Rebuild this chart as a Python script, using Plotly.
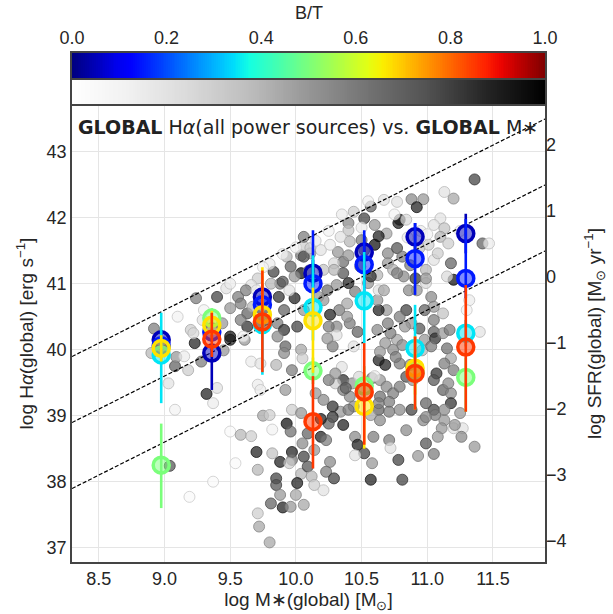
import numpy as np
import plotly.graph_objects as go

# ---------------- data ----------------
# binned medians (log M*, log Halpha) per B/T class
bin_x = [8.975, 9.36, 9.745, 10.13, 10.52, 10.907, 11.293]
bt_class = [0.05, 0.15, 0.35, 0.50, 0.67, 0.85]

navy_y = [40.15, 39.95, 40.80, 41.16, 41.48, 41.71, 41.76]
navy_up = [0.15, 0.12, 0.20, 0.20, 0.25, 0.21, 0.30]
navy_dn = [0.15, 0.56, 0.20, 0.20, 0.25, 0.20, 0.30]

blue_y = [40.06, 40.27, 40.68, 41.00, 41.29, 41.38, 41.08]
blue_up = [0.15, 0.15, 0.15, 0.81, 0.52, 0.54, 0.90]
blue_dn = [0.15, 0.15, 0.15, 0.30, 0.50, 0.55, 0.30]

cyan_y = [39.92, None, 40.38, 40.64, 40.74, 40.02, 40.25]
cyan_up = [0.64, 0.0, 0.40, 0.79, 0.74, 0.66, 0.20]
cyan_dn = [0.73, 0.0, 0.76, 0.50, 0.64, 0.40, 0.20]

green_y = [38.25, 40.48, None, 39.68, 39.45, 39.66, 39.58]
green_up = [0.63, 0.15, 0.0, 0.20, 0.30, 0.30, 0.30]
green_dn = [0.65, 0.15, 0.0, 0.20, 0.30, 0.57, 0.52]

yellow_y = [40.02, 40.37, 40.53, 40.44, 39.14, 39.72, None]
yellow_up = [0.20, 0.22, 0.72, 0.50, 0.50, 0.48, 0.0]
yellow_dn = [0.20, 0.20, 0.30, 0.79, 0.64, 0.40, 0.0]

red_y = [None, 40.16, 40.42, 38.91, 39.36, 39.64, 40.04]
red_up = [0.0, 0.40, 0.78, 0.69, 0.74, 0.56, 0.94]
red_dn = [0.0, 0.27, 0.76, 0.71, 0.80, 0.55, 0.98]

# individual galaxies: log M*, log Halpha, B/T
gal_pts = [
    (9.24,40.78,0.6),(9.40,40.80,0.8),(9.47,40.93,0.2),(9.56,40.80,0.6),(9.58,40.70,0.6),(9.50,40.63,0.5),
    (9.63,40.55,0.7),(9.67,40.65,0.4),(9.71,41.08,0.3),(9.66,40.98,0.2),(9.83,41.18,0.8),(9.88,41.0,0.6),
    (9.81,41.0,0.4),(9.93,41.41,0.4),(9.96,41.26,0.7),(10.04,41.43,0.6),(10.04,41.16,0.95),(9.91,40.60,0.7),
    (9.86,40.40,0.6),(9.91,40.30,0.85),(10.01,40.35,0.8),(10.06,40.60,0.5),(9.73,40.40,0.6),(9.63,40.35,0.85),
    (9.58,40.45,0.6),(9.50,40.20,0.95),(9.44,40.40,0.5),(9.20,40.30,0.3),(9.29,40.45,0.2),(9.50,41.0,0.15),
    (10.10,41.2,0.5),(10.06,41.56,0.3),(8.92,40.32,0.6),
    (11.36,42.58,0.8),(11.13,42.39,0.2),(11.20,42.29,0.45),(10.88,42.28,0.55),(10.97,42.28,0.5),(10.92,42.16,0.9),
    (10.77,42.24,0.2),(10.79,41.97,0.95),(10.78,41.92,0.9),(10.67,42.27,0.2),(10.57,42.17,0.7),(10.52,41.99,0.8),
    (10.44,42.09,0.3),(10.40,41.92,0.55),(10.60,41.89,0.5),(10.69,41.76,0.45),(10.84,41.97,0.25),(11.10,41.99,0.2),
    (11.05,41.89,0.2),(11.13,41.84,0.35),(11.10,41.71,0.4),(11.16,41.61,0.3),(11.42,41.61,0.7),(11.47,41.61,0.15),
    (10.63,41.72,0.9),(10.60,41.59,0.95),(10.50,41.66,0.6),(10.41,41.64,0.4),(10.32,41.48,0.5),(10.36,41.33,0.65),
    (10.29,41.31,0.25),(10.70,41.46,0.55),(10.77,41.54,0.75),(10.81,41.41,0.6),(10.70,41.31,0.5),(10.74,41.21,0.4),
    (10.87,41.28,0.6),(10.82,41.11,0.55),(10.94,41.54,0.35),(11.01,41.59,0.3),(11.05,41.36,0.2),(11.08,41.46,0.3),
    (11.18,41.31,0.7),(11.20,41.06,0.95),(11.15,41.11,0.25),(10.99,41.21,0.4),(10.99,41.01,0.25),(10.92,40.90,0.5),
    (11.03,40.80,0.55),(11.05,40.65,0.5),(11.12,40.55,0.35),(11.40,40.27,0.2),(11.32,40.75,0.15),(10.91,41.08,0.85),
    (10.84,40.60,0.8),(10.79,40.50,0.6),(10.88,40.40,0.5),(10.94,40.32,0.75),(11.05,40.27,0.7),(10.98,40.15,0.5),
    (10.69,40.60,0.5),(10.70,40.40,0.6),(10.63,40.60,0.9),(10.62,40.75,0.5),(10.63,40.90,0.2),(10.55,41.01,0.5),
    (10.45,40.88,0.6),(10.40,41.01,0.9),(10.36,41.16,0.75),(10.29,41.21,0.4),(10.21,41.21,0.35),(10.19,41.51,0.2),
    (10.11,41.46,0.45),(10.06,41.41,0.75),(10.26,41.59,0.15),(10.52,41.51,0.6),(10.40,41.43,0.5),(10.49,41.26,0.6),
    (10.62,41.13,0.4),(10.31,40.98,0.5),(10.24,40.90,0.65),(10.17,40.80,0.5),(10.33,40.60,0.6),(10.39,40.70,0.45),
    (10.31,40.35,0.55),(10.41,40.40,0.6),(10.47,40.27,0.7),(10.62,40.30,0.55),(10.06,41.71,0.6),(10.40,41.81,0.35),
    (10.34,41.71,0.2),
    (9.23,40.10,0.9),(9.28,39.82,0.6),(9.50,40.15,0.9),(9.61,40.15,0.5),(9.40,39.42,0.2),(9.37,39.19,0.15),
    (9.32,39.33,0.9),(9.08,39.75,0.7),(9.09,39.89,0.5),(9.18,39.69,0.3),(9.03,39.49,0.2),(9.08,39.09,0.1),
    (9.04,38.24,0.75),(9.37,38.0,0.05),(9.19,37.77,0.05),(9.66,39.82,0.15),(9.71,39.47,0.15),(9.73,39.39,0.15),
    (9.85,39.77,0.4),(9.92,40.05,0.7),(9.91,39.95,0.55),(10.04,40.0,0.45),(10.05,39.87,0.3),(9.92,39.39,0.5),
    (9.50,38.76,0.05),(9.58,38.71,0.4),(9.66,38.69,0.3),(9.54,38.28,0.05),(9.75,39.0,0.45),(9.80,39.01,0.3),
    (9.82,38.79,0.1),(9.93,38.88,0.95),(9.96,38.76,0.65),(9.97,39.09,0.3),(10.04,39.04,0.5),(9.70,38.45,0.9),
    (9.82,38.43,0.35),(9.88,38.30,0.9),(9.97,38.45,0.9),(9.97,38.33,0.6),(10.06,38.38,0.8),(9.95,38.28,0.3),
    (9.71,38.18,0.4),(10.04,38.12,0.4),(9.85,38.05,0.8),(9.85,37.95,0.75),(10.01,37.98,0.9),(9.88,37.80,0.5),
    (10.0,37.80,0.45),(9.81,37.67,0.7),(9.90,37.61,0.9),(9.96,37.62,0.5),(10.06,37.65,0.45),(9.71,37.52,0.3),
    (9.72,37.32,0.45),(9.80,37.08,0.45),(10.09,38.23,0.75),
    (10.28,40.05,0.6),(10.31,40.22,0.2),(10.24,40.17,0.5),(10.36,39.54,0.85),(10.30,39.49,0.3),(10.43,39.49,0.5),
    (10.48,39.59,0.25),(10.35,39.74,0.2),(10.63,39.84,0.9),(10.68,39.77,0.9),(10.58,39.57,0.6),(10.64,39.54,0.5),
    (10.69,39.44,0.55),(10.74,39.34,0.6),(10.64,39.29,0.65),(10.71,39.21,0.6),(10.63,39.09,0.7),(10.71,39.06,0.6),
    (10.57,39.01,0.45),(10.44,39.14,0.55),(10.41,39.29,0.55),(10.34,39.06,0.5),(10.28,39.14,0.85),(10.28,38.98,0.85),
    (10.25,38.88,0.7),(10.19,38.95,0.9),(10.19,38.68,0.9),(10.23,38.63,0.6),(10.09,38.73,0.7),(10.14,38.48,0.5),
    (10.26,38.30,0.55),(10.23,38.15,0.6),(10.29,38.05,0.8),(10.12,38.08,0.4),(10.14,37.95,0.3),(10.21,37.87,0.2),
    (10.45,38.68,0.55),(10.47,38.56,0.9),(10.52,38.43,0.8),(10.45,38.40,0.2),(10.59,38.68,0.6),(10.71,38.63,0.6),
    (10.72,38.51,0.2),(10.58,38.28,0.5),(10.57,38.03,0.9),(10.78,38.33,0.8),(10.81,38.03,0.8),(10.93,38.39,0.5),
    (10.99,38.58,0.75),(11.05,38.42,0.6),(10.79,39.44,0.6),(10.84,39.59,0.75),(10.89,39.54,0.5),(10.87,39.77,0.55),
    (10.96,39.99,0.4),(11.06,40.17,0.85),(11.03,40.05,0.6),(11.15,40.02,0.65),(11.07,39.64,0.85),(11.05,39.54,0.75),
    (11.12,39.39,0.7),(11.18,39.34,0.55),(11.18,39.19,0.85),(11.05,39.09,0.8),(11.06,39.01,0.6),(10.97,38.93,0.55),
    (11.13,38.93,0.5),(11.11,38.81,0.5),(11.08,38.68,0.5),(11.20,38.81,0.2),(11.27,38.81,0.2),(11.26,38.68,0.55),
    (11.25,39.04,0.5),(11.36,38.53,0.5),(11.18,39.87,0.45),(11.20,39.69,0.6),(11.12,40.25,0.5),(10.79,39.79,0.6),
    (10.74,40.0,0.55),(10.68,40.10,0.5),(10.77,40.15,0.45),(10.44,40.05,0.2),(10.15,39.34,0.5),(10.21,39.24,0.55),
    (10.36,39.39,0.6),
    (9.22,40.25,0.25),(9.45,39.99,0.5),(8.90,39.95,0.4),
    (9.62,40.90,0.6),(9.87,40.80,0.85),(9.99,40.78,0.9),(9.86,40.20,0.55),(10.26,40.53,0.9),(10.25,40.35,0.6),
    (10.21,40.75,0.5),(9.97,39.69,0.6),(9.73,39.79,0.2),(10.25,39.54,0.6),(10.30,39.64,0.5),(10.05,38.58,0.55),
    (9.99,41.11,0.5),(9.90,41.03,0.75),(10.11,41.54,0.3),
    (10.57,41.11,0.85),(10.77,41.16,0.6),(10.86,40.90,0.55),(10.67,40.90,0.45),(10.99,41.08,0.5),(10.98,40.60,0.7),
    (11.05,40.45,0.6),(10.83,40.35,0.5),(10.72,40.25,0.6),(10.39,40.50,0.5),(10.64,39.97,0.5),(10.76,39.89,0.6),
    (10.81,40.07,0.55),(10.38,39.42,0.7),(10.36,38.86,0.9),(10.40,39.09,0.6),(10.63,39.19,0.6),(10.64,38.93,0.55),
    (10.79,39.09,0.55),(10.88,39.09,0.8),(10.99,39.19,0.7),(10.99,38.98,0.55),(10.84,38.78,0.55),
    (11.17,40.30,0.6),(11.13,39.79,0.6),(11.16,39.49,0.55),(11.13,39.09,0.55),(11.21,38.86,0.5),
    (9.80,41.30,0.15),(9.90,41.45,0.1),(10.0,41.55,0.1),(9.75,41.25,0.1),(9.70,40.90,0.15),(9.95,40.90,0.2),
    (10.15,41.65,0.15),(10.25,41.80,0.1),(10.55,42.25,0.1),(10.35,42.05,0.15),(10.50,41.85,0.15),(10.75,42.05,0.1),
    (10.95,41.80,0.15),(11.0,41.75,0.1),(10.85,41.70,0.15),(9.6,40.2,0.1),(9.1,40.5,0.1),(9.3,40.6,0.1),
    (9.15,39.9,0.15),(10.6,39.6,0.15),(11.3,40.6,0.1),(11.25,41.8,0.1),
]
gal_x = [p[0] for p in gal_pts]
gal_y = [p[1] for p in gal_pts]
gal_bt = [p[2] for p in gal_pts]

ssfr_lines = [-9.5, -10.5, -11.5]   # log sSFR of reference lines
sfr_offset = 41.1                    # log L(Halpha) - log SFR

x_ticks = [8.5, 9.0, 9.5, 10.0, 10.5, 11.0, 11.5]
y_ticks = [37, 38, 39, 40, 41, 42, 43]
sfr_ticks = [-4, -3, -2, -1, 0, 1, 2]
bt_ticks = [0.0, 0.2, 0.4, 0.6, 0.8, 1.0]

# ---------------- styles ----------------
XR = [8.296, 11.896]
YR = [36.783, 43.708]
FONT = "Liberation Sans, Arial, sans-serif"
TXT = "#262626"


def jet(v):
    v = np.asarray(v, dtype=float)
    r = np.interp(v, [0, 0.35, 0.66, 0.89, 1], [0, 0, 1, 1, 0.5])
    g = np.interp(v, [0, 0.125, 0.375, 0.64, 0.91, 1], [0, 0, 1, 1, 0, 0])
    b = np.interp(v, [0, 0.11, 0.34, 0.65, 1], [0.5, 1, 1, 0, 0])
    return np.stack([r, g, b], axis=-1)


greys_hex = ['#ffffff', '#f0f0f0', '#d9d9d9', '#bdbdbd', '#969696', '#737373', '#525252', '#252525', '#000000']
greys_rgb = np.array([[int(h[i:i + 2], 16) for i in (1, 3, 5)] for h in greys_hex], dtype=float)
gpos = np.linspace(0, 1, len(greys_hex))


def greys(v):
    v = np.asarray(v, dtype=float)
    return np.stack([np.interp(v, gpos, greys_rgb[:, k]) for k in range(3)], axis=-1)


fig = go.Figure()

# galaxies
fc = greys(gal_bt)
fill = ["rgba(%d,%d,%d,0.72)" % tuple(c) for c in fc]
edge = ["rgba(%d,%d,%d,0.8)" % tuple(c * 0.82) for c in fc]
fig.add_trace(go.Scatter(x=gal_x, y=gal_y, mode="markers",
                         marker=dict(size=11, color=fill, line=dict(color=edge, width=1)),
                         showlegend=False, hoverinfo="skip"))

# sSFR reference lines
xl = np.array(XR)
for s in ssfr_lines:
    fig.add_trace(go.Scatter(x=xl, y=xl + s + sfr_offset, mode="lines",
                             line=dict(color="black", width=1.2, dash="4px,2px"),
                             showlegend=False, hoverinfo="skip"))

# binned relations
series = [(navy_y, navy_up, navy_dn), (blue_y, blue_up, blue_dn), (cyan_y, cyan_up, cyan_dn),
          (green_y, green_up, green_dn), (yellow_y, yellow_up, yellow_dn), (red_y, red_up, red_dn)]
for bt, (yy, up, dn) in zip(bt_class, series):
    c = jet(bt) * 255
    solid = "rgb(%d,%d,%d)" % tuple(c)
    soft = "rgba(%d,%d,%d,0.5)" % tuple(c)
    fig.add_trace(go.Scatter(x=bin_x, y=yy, mode="markers",
                             marker=dict(size=16, color=soft, line=dict(color=solid, width=3.5)),
                             error_y=dict(type="data", symmetric=False, array=up, arrayminus=dn,
                                          color=solid, thickness=2.6, width=0),
                             showlegend=False, hoverinfo="skip"))

# secondary axis carrier (invisible)
fig.add_trace(go.Scatter(x=[XR[0]], y=[YR[0] - sfr_offset], yaxis="y2", mode="markers",
                         marker=dict(opacity=0), showlegend=False, hoverinfo="skip"))

# colour bars
nb = 256
cb_x = (np.arange(nb) + 0.5) / nb
jet_cs = [[float(p), "rgb(%d,%d,%d)" % tuple(jet(p) * 255)] for p in np.linspace(0, 1, 33)]
grey_cs = [[float(p), h] for p, h in zip(gpos, greys_hex)]
fig.add_trace(go.Heatmap(x=cb_x, y=[0], z=[cb_x], colorscale=jet_cs, zmin=0, zmax=1,
                         showscale=False, xaxis="x3", yaxis="y3", hoverinfo="skip"))
fig.add_trace(go.Heatmap(x=cb_x, y=[0], z=[cb_x], colorscale=grey_cs, zmin=0, zmax=1,
                         showscale=False, xaxis="x4", yaxis="y4", hoverinfo="skip"))

H = 614
top_m, bot_m = 5, 52
ph = H - top_m - bot_m


def py(pix):
    return (H - bot_m - pix) / ph


axis_common = dict(showline=True, linecolor="#444444", linewidth=1.5, mirror=True,
                   ticks="", zeroline=False, automargin=False)

fig.update_layout(
    width=613, height=614,
    margin=dict(l=72, r=68, t=top_m, b=bot_m),
    paper_bgcolor="white", plot_bgcolor="white",
    font=dict(family=FONT, size=18, color=TXT),
    xaxis=dict(range=XR, domain=[0, 1], tickvals=x_ticks, ticktext=["%.1f" % v for v in x_ticks],
               showgrid=True, gridcolor="#e5e5e5", gridwidth=1, **axis_common,
               title=dict(text="log M\u2217(global) [M<sub>\u2299</sub>]", font=dict(size=19), standoff=2)),
    yaxis=dict(range=YR, domain=[0, py(105)], tickvals=y_ticks,
               showgrid=True, gridcolor="#e5e5e5", gridwidth=1, **axis_common,
               title=dict(text="log H<i>\u03b1</i>(global) [erg s<sup>\u22121</sup>]", font=dict(size=19), standoff=8)),
    yaxis2=dict(range=[YR[0] - sfr_offset, YR[1] - sfr_offset], overlaying="y", side="right",
                tickvals=sfr_ticks, ticktext=[("\u2212%d" % -v) if v < 0 else str(v) for v in sfr_ticks],
                showgrid=False, zeroline=False, ticks="", showline=False, automargin=False,
                title=dict(text="log SFR(global) [M<sub>\u2299</sub> yr<sup>\u22121</sup>]", font=dict(size=19), standoff=22)),
    xaxis3=dict(range=[0, 1], domain=[0, 1], anchor="y3", side="top", tickvals=bt_ticks,
                ticktext=["%.1f" % v for v in bt_ticks], showgrid=False, **axis_common),
    yaxis3=dict(range=[-0.5, 0.5], domain=[py(79), py(53)], anchor="x3", showticklabels=False,
                showgrid=False, **axis_common),
    xaxis4=dict(range=[0, 1], domain=[0, 1], anchor="y4", showticklabels=False, showgrid=False, **axis_common),
    yaxis4=dict(range=[-0.5, 0.5], domain=[py(104), py(80)], anchor="x4", showticklabels=False,
                showgrid=False, **axis_common),
    annotations=[
        dict(text="B/T", x=0.5, y=py(13), xref="paper", yref="paper", showarrow=False,
             font=dict(size=18, color=TXT), xanchor="center", yanchor="middle"),
        dict(text="<b>GLOBAL</b> H<i>\u03b1</i>(all power sources) vs. <b>GLOBAL</b> M\u2217",
             x=0.008, y=py(127), xref="paper", yref="paper", showarrow=False,
             font=dict(size=19, color="#222222", family="DejaVu Sans"), xanchor="left", yanchor="middle"),
    ],
)

fig.write_html("out.html", config={"displayModeBar": False},
               post_script="document.body.style.margin='0';document.body.style.overflow='hidden';")
